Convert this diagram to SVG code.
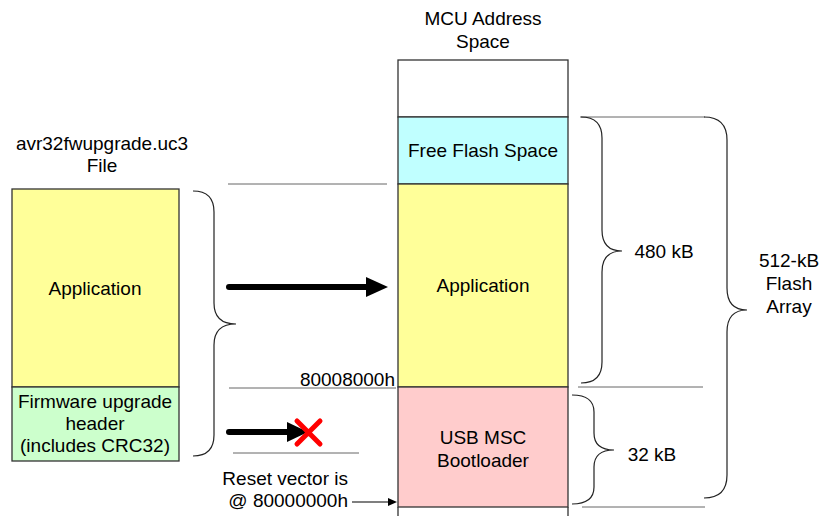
<svg xmlns="http://www.w3.org/2000/svg" width="832" height="516" viewBox="0 0 832 516">
<defs>
<style>
text{font-family:"Liberation Sans",Arial,sans-serif;font-size:19px;fill:#000;text-anchor:middle}
.end{text-anchor:end}
.box{stroke:#333;stroke-width:1.3}
.brace{fill:none;stroke:#222;stroke-width:1.2}
.guide{stroke:#666;stroke-width:1}
.shaft{stroke:#000;stroke-width:6;stroke-linecap:round}
</style>
</defs>
<rect width="832" height="516" fill="#fff"/>

<g id="file-title"><text x="102" y="150">avr32fwupgrade.uc3</text><text x="102" y="172">File</text></g>
<g id="file-application"><rect class="box" x="12" y="189" width="167" height="198" fill="#FFFF99"/><text x="95" y="295">Application</text></g>
<g id="file-header"><rect class="box" x="12" y="387" width="167" height="74" fill="#CCFFCC"/><text x="95" y="408">Firmware upgrade</text><text x="95" y="430">header</text><text x="95" y="452">(includes CRC32)</text></g>

<g id="mcu-title"><text x="483" y="25">MCU Address</text><text x="483" y="48">Space</text></g>
<g id="mcu-top"><rect class="box" x="398" y="60" width="170" height="57" fill="#fff"/></g>
<g id="mcu-free"><rect class="box" x="398" y="117" width="170" height="67" fill="#C0FFFF"/><text x="483" y="157">Free Flash Space</text></g>
<g id="mcu-application"><rect class="box" x="398" y="184" width="170" height="203" fill="#FFFF99"/><text x="483" y="292">Application</text></g>
<g id="mcu-bootloader"><rect class="box" x="398" y="387" width="170" height="120" fill="#FFCCCC"/><text x="483" y="444">USB MSC</text><text x="483" y="467">Bootloader</text></g>
<g id="mcu-bottom"><path class="box" d="M398,507 V516 M568,507 V516" fill="none"/></g>

<g id="connectors">
<line class="guide" x1="228" y1="184" x2="387" y2="184"/>
<line class="guide" x1="229" y1="388" x2="396" y2="388"/>
<line class="guide" x1="233" y1="453" x2="359" y2="453"/>
<line class="guide" x1="580" y1="117" x2="705" y2="117"/>
<line class="guide" x1="578" y1="387" x2="703" y2="387"/>
<line class="guide" x1="582" y1="507" x2="705" y2="507"/>

<path class="brace" d="M193,191 Q214,191 214,212 V303 Q214,324 236,324 Q214,324 214,345 V435 Q214,456 193,456"/>
<path class="brace" d="M581,117 Q602,117 602,138 V230 Q602,251 622,251 Q602,251 602,272 V362 Q602,383 581,383"/>
<path class="brace" d="M572,395 Q594,395 594,412 V433 Q594,450 614,450 Q594,450 594,467 V487 Q594,504 572,504"/>
<path class="brace" d="M704,117 Q727,117 727,140 V288 Q727,310 747,310 Q727,310 727,332 V475 Q727,498 704,498"/>

<line class="shaft" x1="229" y1="287" x2="368" y2="287"/>
<path d="M366,277 L388,287 L366,297 Z" fill="#000"/>
<line class="shaft" x1="229" y1="432" x2="290" y2="432"/>
<path d="M287,422 L308,432 L287,442 Z" fill="#000"/>
<path d="M297,421 L320,444 M320,421 L297,444" stroke="#FF0000" stroke-width="5" stroke-linecap="round"/>
<line x1="352" y1="502" x2="389" y2="502" stroke="#000" stroke-width="1.2"/>
<path d="M388,498 L397,502 L388,506 Z" fill="#000"/>
</g>

<g id="labels">
<text class="end" x="395" y="386">80008000h</text>
<text class="end" x="348" y="485">Reset vector is</text>
<text class="end" x="348" y="507">@ 80000000h</text>
<text x="664" y="258">480 kB</text>
<text x="652" y="461">32 kB</text>
<text x="789" y="267">512-kB</text>
<text x="789" y="290">Flash</text>
<text x="789" y="313">Array</text>
</g>
</svg>
